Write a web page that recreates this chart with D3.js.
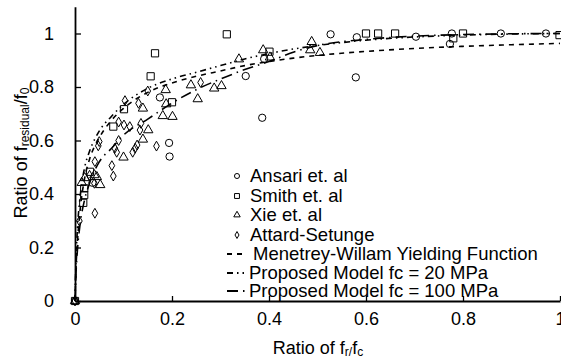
<!DOCTYPE html>
<html><head><meta charset="utf-8">
<script src="https://cdn.jsdelivr.net/npm/d3@7"></script>
<style>body{margin:0;background:#fff}svg{display:block;font-family:"Liberation Sans",Arial,sans-serif}</style>
</head><body><svg id="c" width="561" height="360"></svg>
<script>
// ---- data ----
const ansari = [[0,0],[0.036,0.442],[0.175,0.761],[0.194,0.591],[0.195,0.54],[0.352,0.841],[0.386,0.685],[0.39,0.905],[0.527,0.997],[0.581,0.986],[0.579,0.836],[0.703,0.988],[0.777,1.0],[0.773,0.961],[0.878,1.0],[0.971,1.0]];
const smith = [[0,0],[0.017,0.367],[0.019,0.396],[0.019,0.421],[0.031,0.483],[0.079,0.652],[0.101,0.717],[0.156,0.84],[0.165,0.926],[0.2,0.743],[0.313,0.997],[0.401,0.932],[0.6,1.0],[0.625,1.0],[0.66,1.0],[0.78,0.982],[0.8,1.0],[0.999,0.994]];
const xie = [[0,0],[0.014,0.442],[0.02,0.46],[0.04,0.471],[0.045,0.464],[0.052,0.434],[0.1,0.537],[0.14,0.604],[0.151,0.639],[0.14,0.72],[0.181,0.692],[0.201,0.689],[0.188,0.736],[0.187,0.789],[0.239,0.807],[0.253,0.755],[0.287,0.795],[0.302,0.804],[0.338,0.904],[0.388,0.938],[0.402,0.911],[0.488,0.969],[0.485,0.938],[0.505,0.928]];
const attard = [[0,0],[0.009,0.299],[0.041,0.328],[0.04,0.44],[0.03,0.47],[0.048,0.58],[0.05,0.596],[0.041,0.521],[0.079,0.467],[0.076,0.506],[0.086,0.556],[0.082,0.571],[0.09,0.6],[0.09,0.669],[0.101,0.658],[0.113,0.652],[0.103,0.749],[0.131,0.739],[0.15,0.785],[0.136,0.664],[0.134,0.639],[0.119,0.556],[0.124,0.571],[0.128,0.583],[0.168,0.579],[0.259,0.817]];
const curveX   = [0,0.002,0.005,0.01,0.02,0.03,0.05,0.075,0.1,0.15,0.2,0.25,0.3,0.35,0.4,0.45,0.5,0.6,0.7,0.8,0.9,1.0];
const menetrey = [0,0.12,0.22,0.33,0.46,0.53,0.61,0.675,0.72,0.78,0.815,0.84,0.86,0.88,0.895,0.908,0.918,0.933,0.944,0.952,0.958,0.963];
const prop20   = [0,0.15,0.27,0.38,0.5,0.56,0.635,0.69,0.735,0.795,0.83,0.855,0.88,0.905,0.925,0.942,0.955,0.975,0.987,0.994,0.998,1.0];
const prop100  = [0,0.1,0.19,0.28,0.38,0.44,0.52,0.57,0.62,0.68,0.74,0.79,0.83,0.865,0.895,0.93,0.955,0.978,0.99,0.996,0.999,1.0];
const xTicks = [0,0.2,0.4,0.6,0.8,1];
const yTicks = [0,0.2,0.4,0.6,0.8,1];
const legendLabels = ["Ansari et. al","Smith et. al","Xie et. al","Attard-Setunge","Menetrey-Willam Yielding Function","Proposed Model fc = 20 MPa","Proposed Model fc = 100 MPa"];

// ---- drawing ----
const svg = d3.select("#c");
const x = d3.scaleLinear().domain([0,1]).range([75,560]);
const y = d3.scaleLinear().domain([0,1.1]).range([301,6.75]);
const FS = 18;
const LFS = 18.5;

// legend (drawn first so the axis ticks show over it)
const lsym = {
  circle: d3.symbol().type(d3.symbolCircle).size(20),
  square: d3.symbol().type(d3.symbolSquare).size(24),
  triangle: d3.symbol().type(d3.symbolTriangle).size(18),
  diamond: d3.symbol().type(d3.symbolDiamond).size(14)
};
const styles = [
  {vals:menetrey, dash:"5,5"},
  {vals:prop20, dash:"6,4,1.5,4,1.5,4"},
  {vals:prop100, dash:"11,5,1.5,5"}
];
const symNames = ["circle","square","triangle","diamond"];
const baselines = [182,202,221,241,260,279,297];
const lg = svg.append("g");
legendLabels.forEach((lab,i)=>{
  const by = baselines[i], cy = by-6;
  if(i<4){
    lg.append("path").attr("transform",`translate(237,${cy})`).attr("d",lsym[symNames[i]])
      .attr("fill","none").attr("stroke","#000").attr("stroke-width",1);
  } else {
    lg.append("line").attr("x1",227).attr("x2",246).attr("y1",cy).attr("y2",cy)
      .attr("stroke","#000").attr("stroke-width",1.8).attr("stroke-dasharray",styles[i-4].dash);
  }
  lg.append("text").attr("x", i===4?253:(i>4?249:250)).attr("y",by).attr("font-size",LFS).attr("fill","#000").text(lab);
});

// axes
const xAxis = svg.append("g").attr("transform","translate(0,301)")
  .call(d3.axisBottom(x).tickValues(xTicks).tickSizeInner(-5).tickSizeOuter(0).tickPadding(11).tickFormat(d3.format("")));
const yAxis = svg.append("g").attr("transform","translate(75,0)")
  .call(d3.axisLeft(y).tickValues(yTicks).tickSizeInner(-6).tickSizeOuter(0).tickPadding(21).tickFormat(d3.format("")));
[xAxis,yAxis].forEach(a=>{
  a.select(".domain").attr("stroke","#000").attr("stroke-width",1.8);
  a.selectAll(".tick line").attr("stroke","#000").attr("stroke-width",1.3);
  a.selectAll(".tick text").attr("font-size",FS).attr("fill","#000").attr("font-family","Liberation Sans, Arial, sans-serif");
});

// curves
const lineGen = d3.line().x(d=>x(d[0])).y(d=>y(d[1])).curve(d3.curveMonotoneX);
styles.forEach(s=>{
  svg.append("path").datum(curveX.map((v,i)=>[v,s.vals[i]]))
    .attr("d",lineGen).attr("fill","none").attr("stroke","#000")
    .attr("stroke-width",1.6).attr("stroke-dasharray",s.dash);
});

// markers
const sym = {
  circle: d3.symbol().type(d3.symbolCircle).size(42),
  square: d3.symbol().type(d3.symbolSquare).size(52),
  triangle: d3.symbol().type(d3.symbolTriangle).size(38),
  diamond: d3.symbol().type(d3.symbolDiamond).size(28)
};
const series = [[ansari,"circle"],[smith,"square"],[xie,"triangle"],[attard,"diamond"]];
series.forEach(([data,t])=>{
  svg.append("g").selectAll("path").data(data).join("path")
    .attr("transform",d=>`translate(${x(d[0])},${y(d[1])})`)
    .attr("d",sym[t]).attr("fill","none").attr("stroke","#000").attr("stroke-width",1);
});

// axis titles
const xt = svg.append("text").attr("x",318).attr("y",354).attr("text-anchor","middle").attr("font-size",FS).attr("fill","#000");
xt.append("tspan").text("Ratio of f");
xt.append("tspan").attr("font-size",12).attr("dy",2).text("r/");
xt.append("tspan").attr("dy",-2).text("f");
xt.append("tspan").attr("font-size",12).attr("dy",2).text("c");

const yt = svg.append("text").attr("transform","translate(27,153) rotate(-90)").attr("text-anchor","middle").attr("font-size",FS).attr("fill","#000");
yt.append("tspan").text("Ratio of f");
yt.append("tspan").attr("font-size",12).attr("dy",2).text("residual");
yt.append("tspan").attr("dy",-2).text("/f");
yt.append("tspan").attr("font-size",12).attr("dy",2).text("0");
</script></body></html>
